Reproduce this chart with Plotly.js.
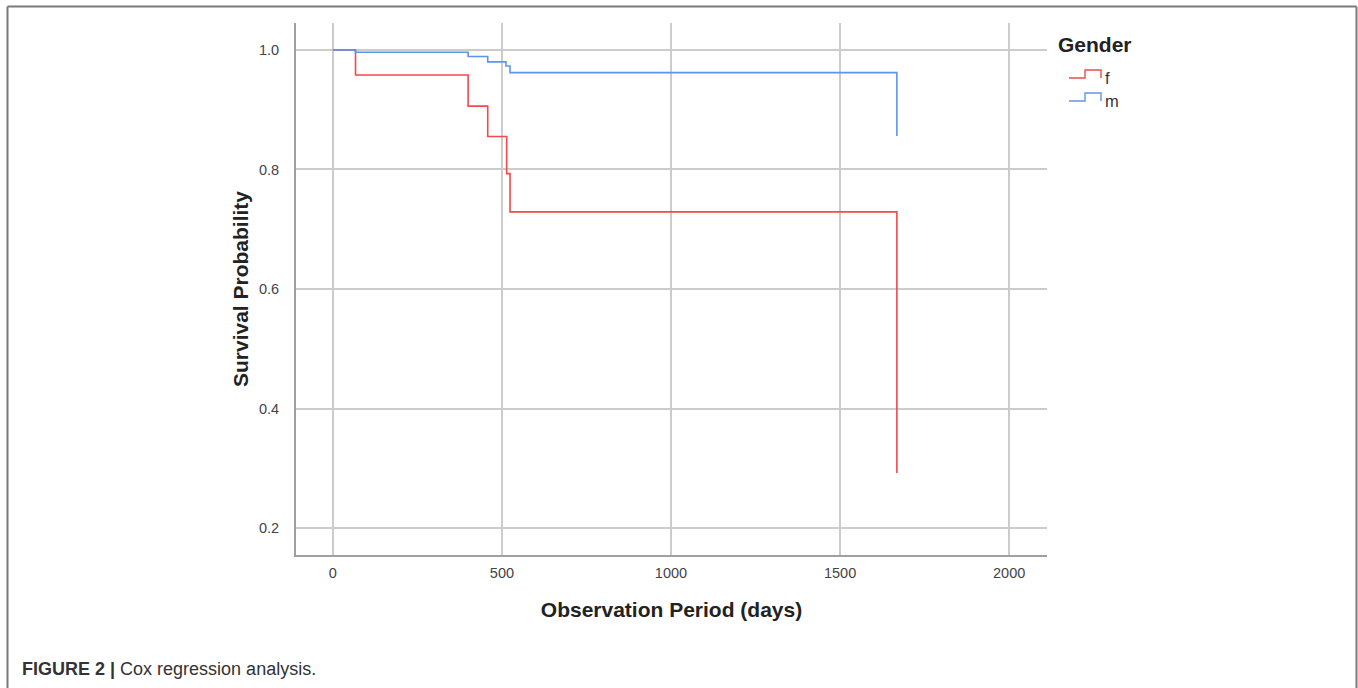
<!DOCTYPE html>
<html>
<head>
<meta charset="utf-8">
<script src="https://cdn.plot.ly/plotly-3.0.1.min.js"></script>
<style>html,body{margin:0;padding:0;background:#fff;}#chart{width:1358px;height:688px;}</style>
</head>
<body>
<div id="chart"></div>
<script>
// Data (Kaplan-Meier style step curves)
const seriesNames = ["f", "m"];
const daysF = [0, 67, 400, 458, 514, 524, 1668];
const survF = [1.0, 0.958, 0.906, 0.855, 0.793, 0.729, 0.292];
const daysM = [0, 67, 400, 458, 512, 524, 1668];
const survM = [1.0, 0.996, 0.989, 0.980, 0.973, 0.962, 0.856];
const xTicks = [0, 500, 1000, 1500, 2000];
const yTicks = [0.2, 0.4, 0.6, 0.8, 1.0];

const colF = "#f04a4c";
const colM = "#5d95ec";

// Plot area in pixels
const L = 296, R = 1047, T = 23, B = 555, W = 1358, H = 688;
const px = x => (x - L) / (R - L);
const py = y => (B - y) / (B - T);

function stepIcon(y0) {
  // small step symbol like the SPSS legend
  return `M${px(1069)},${py(y0 + 1)} L${px(1085)},${py(y0 + 1)} L${px(1085)},${py(y0 - 7)} L${px(1101)},${py(y0 - 7)} L${px(1101)},${py(y0 + 1)}`;
}

const traces = [
  {x: daysF, y: survF, name: seriesNames[0], type: "scatter", mode: "lines",
   line: {shape: "hv", color: colF, width: 1.6}, showlegend: false, hoverinfo: "x+y"},
  {x: daysM, y: survM, name: seriesNames[1], type: "scatter", mode: "lines",
   line: {shape: "hv", color: colM, width: 1.6}, showlegend: false, hoverinfo: "x+y"}
];

const fontFam = "Liberation Sans, Arial, sans-serif";

const layout = {
  width: W, height: H,
  margin: {l: L, r: W - R, t: T, b: H - B},
  paper_bgcolor: "#ffffff", plot_bgcolor: "#ffffff",
  font: {family: fontFam, color: "#333"},
  xaxis: {
    range: [-109, 2112], tickvals: xTicks, ticktext: xTicks.map(String),
    showgrid: true, gridcolor: "#cccccc", gridwidth: 1.5,
    showline: true, linecolor: "#a0a0a0", linewidth: 2,
    zeroline: false, ticks: "outside", ticklen: 4, tickcolor: "rgba(0,0,0,0)",
    tickfont: {size: 14.5, color: "#444"},
    title: {text: "<b>Observation Period (days)</b>", font: {size: 21, color: "#222"}, standoff: 22}
  },
  yaxis: {
    range: [0.155, 1.045], tickvals: yTicks, ticktext: yTicks.map(v => v.toFixed(1)),
    showgrid: true, gridcolor: "#cccccc", gridwidth: 1.5,
    showline: true, linecolor: "#a0a0a0", linewidth: 2,
    zeroline: false, ticks: "outside", ticklen: 12, tickcolor: "rgba(0,0,0,0)",
    tickfont: {size: 14.5, color: "#444"},
    title: {text: "<b>Survival Probability</b>", font: {size: 21, color: "#222"}, standoff: 5}
  },
  shapes: [
    // figure frame
    {type: "line", xref: "paper", yref: "paper", x0: px(7.5), x1: px(1356.5), y0: py(6.5), y1: py(6.5), line: {color: "#7a7a7a", width: 2}},
    {type: "line", xref: "paper", yref: "paper", x0: px(7.5), x1: px(7.5), y0: py(6.5), y1: py(700), line: {color: "#7a7a7a", width: 2}},
    {type: "line", xref: "paper", yref: "paper", x0: px(1356.5), x1: px(1356.5), y0: py(6.5), y1: py(700), line: {color: "#7a7a7a", width: 2}},
    // legend symbols
    {type: "path", xref: "paper", yref: "paper", path: stepIcon(77), line: {color: colF, width: 1.4}},
    {type: "path", xref: "paper", yref: "paper", path: stepIcon(100), line: {color: colM, width: 1.4}}
  ],
  annotations: [
    {xref: "paper", yref: "paper", x: px(1056), y: py(44), xanchor: "left", yanchor: "middle", showarrow: false,
     text: "<b>Gender</b>", font: {size: 21, color: "#222", family: fontFam}},
    {xref: "paper", yref: "paper", x: px(1103), y: py(78), xanchor: "left", yanchor: "middle", showarrow: false,
     text: seriesNames[0], font: {size: 16.5, color: "#333", family: fontFam}},
    {xref: "paper", yref: "paper", x: px(1103), y: py(101), xanchor: "left", yanchor: "middle", showarrow: false,
     text: seriesNames[1], font: {size: 16.5, color: "#333", family: fontFam}},
    {xref: "paper", yref: "paper", x: px(20), y: py(669), xanchor: "left", yanchor: "middle", showarrow: false,
     text: "<b>FIGURE 2 |</b> Cox regression analysis.", font: {size: 18, color: "#333", family: fontFam}}
  ],
  showlegend: false
};

Plotly.newPlot("chart", traces, layout, {displayModeBar: false, responsive: false});
</script>
</body>
</html>
